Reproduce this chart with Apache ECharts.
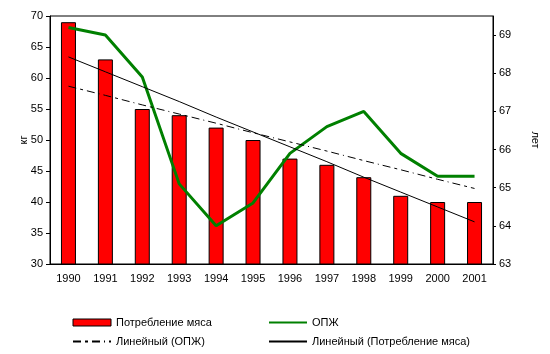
<!DOCTYPE html>
<html>
<head>
<meta charset="utf-8">
<script src="https://cdn.jsdelivr.net/npm/echarts@6/dist/echarts.min.js"></script>
<style>
  html, body { margin: 0; padding: 0; background: #fff; }
  #chart { width: 550px; height: 354px; }
</style>
</head>
<body>
<div id="chart"></div>
<script>
const years = ['1990', '1991', '1992', '1993', '1994', '1995', '1996', '1997', '1998', '1999', '2000', '2001'];
const meat = [69, 63, 55, 54, 52, 50, 47, 46, 44, 41, 40, 40];
const lifeExp = [69.2, 69.0, 67.9, 65.1, 64.0, 64.6, 65.9, 66.6, 67.0, 65.9, 65.3, 65.3];
const lifeTrend = [67.66, 67.42, 67.17, 66.93, 66.69, 66.44, 66.2, 65.96, 65.71, 65.47, 65.22, 64.98];
const meatTrend = [63.4, 61.0, 58.6, 56.2, 53.7, 51.3, 48.9, 46.5, 44.0, 41.6, 39.2, 36.8];

const font = 'Liberation Sans, Arial, sans-serif';
const txt = { color: '#000', fontFamily: font, fontSize: 11 };
const noSym = { opacity: 0 };

document.addEventListener("DOMContentLoaded", () => {
  echarts.init(document.querySelector("#chart")).setOption({
    animation: false,
    textStyle: { fontFamily: font },
    grid: {
      left: 50, right: 57, top: 16, bottom: 90,
      show: true, borderColor: '#000', borderWidth: 1
    },
    legend: [{
      orient: 'vertical',
      left: 72, top: 317, padding: 0,
      itemWidth: 38, itemHeight: 7, itemGap: 8,
      textStyle: txt,
      data: [
        { name: 'Потребление мяса', icon: 'rect', itemStyle: { borderWidth: 1 } },
        { name: 'Линейный (ОПЖ)', itemStyle: noSym }
      ]
    }, {
      orient: 'vertical',
      left: 268, top: 317, padding: 0,
      itemWidth: 38, itemHeight: 7, itemGap: 8,
      textStyle: txt,
      data: [
        { name: 'ОПЖ', itemStyle: noSym },
        { name: 'Линейный (Потребление мяса)', itemStyle: noSym }
      ]
    }],
    xAxis: {
      type: 'category',
      data: years,
      axisLine: { lineStyle: { color: '#000' } },
      axisTick: { lineStyle: { color: '#000' }, length: 4 },
      axisLabel: Object.assign({ margin: 9 }, txt)
    },
    yAxis: [{
      type: 'value',
      min: 30, max: 70, interval: 5,
      name: 'кг',
      nameLocation: 'middle',
      nameGap: 21,
      nameMoveOverlap: false,
      nameTextStyle: txt,
      splitLine: { show: false },
      axisLine: { show: true, lineStyle: { color: '#000' } },
      axisTick: { show: true, length: 4, lineStyle: { color: '#000' } },
      axisLabel: Object.assign({ margin: 7 }, txt)
    }, {
      type: 'value',
      position: 'right',
      min: 63, max: 69.5, interval: 1,
      name: 'лет',
      nameLocation: 'middle',
      nameRotate: -90,
      nameGap: 37,
      nameMoveOverlap: false,
      nameTextStyle: txt,
      splitLine: { show: false },
      axisLine: { show: true, lineStyle: { color: '#000' } },
      axisTick: { show: true, length: 3, lineStyle: { color: '#000' } },
      axisLabel: Object.assign({ margin: 6, showMaxLabel: false }, txt)
    }],
    series: [{
      name: 'Потребление мяса',
      type: 'bar',
      data: meat,
      barWidth: 15,
      itemStyle: { color: '#ff0000', borderColor: '#000', borderWidth: 1 }
    }, {
      name: 'ОПЖ',
      type: 'line',
      yAxisIndex: 1,
      data: lifeExp,
      symbol: 'none',
      lineStyle: { color: '#008000', width: 3 },
      itemStyle: { color: '#008000' }
    }, {
      name: 'Линейный (ОПЖ)',
      type: 'line',
      yAxisIndex: 1,
      data: lifeTrend,
      symbol: 'none',
      lineStyle: { color: '#000', width: 1, type: [8, 4, 3, 4, 8, 4, 1, 4] },
      itemStyle: { color: '#000' }
    }, {
      name: 'Линейный (Потребление мяса)',
      type: 'line',
      data: meatTrend,
      symbol: 'none',
      lineStyle: { color: '#000', width: 1 },
      itemStyle: { color: '#000' }
    }]
  });
});
</script>
</body>
</html>
